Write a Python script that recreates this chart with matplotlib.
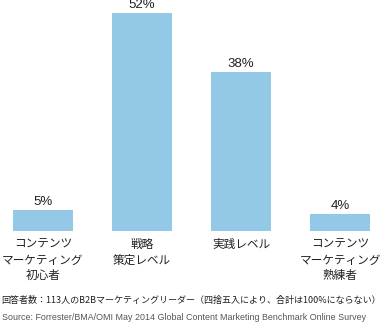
import matplotlib
matplotlib.use("Agg")
import matplotlib.pyplot as plt

plt.rcParams["font.family"] = ["Noto Sans CJK JP", "DejaVu Sans"]

categories = ["コンテンツ\nマーケティング\n初心者", "戦略\n策定レベル", "実践レベル",
              "コンテンツ\nマーケティング\n熟練者"]
values = [5, 52, 38, 4]
value_labels = ["5%", "52%", "38%", "4%"]

note = "回答者数：113人のB2Bマーケティングリーダー（四捨五入により、合計は100%にならない）"
source = "Source: Forrester/BMA/OMI May 2014 Global Content Marketing Benchmark Online Survey"

BAR = "#93c8e6"
INK = "#231f20"

fig = plt.figure(figsize=(3.82, 3.23), dpi=100)
ax = fig.add_axes([0, 0.2848, 1, 0.7152])
x = range(len(values))
ax.bar(x, values, width=0.606, color=BAR)
ax.set_xlim(-0.434, 3.424)
ax.set_ylim(0, 55.1)
ax.axis("off")

for xi, v, lab in zip(x, values, value_labels):
    ax.annotate(lab, (xi, v), xytext=(0, 1.5), textcoords="offset points",
                ha="center", va="bottom", fontsize=9.5, color=INK,
                family=["Liberation Sans", "DejaVu Sans"])

for xi, cat in zip(x, categories):
    ax.annotate(cat, (xi, 0), xytext=(0, -5), textcoords="offset points",
                ha="center", va="top", fontsize=8.4, color=INK, linespacing=1.25)

fig.text(0.003, 1 - 300 / 323, note, ha="left", va="center", fontsize=6.5, color=INK)
fig.text(0.005, 1 - 317 / 323, source, ha="left", va="center", fontsize=6.4,
         color="#555555", family=["Liberation Sans", "DejaVu Sans"])

fig.savefig("out.png", dpi=100)
